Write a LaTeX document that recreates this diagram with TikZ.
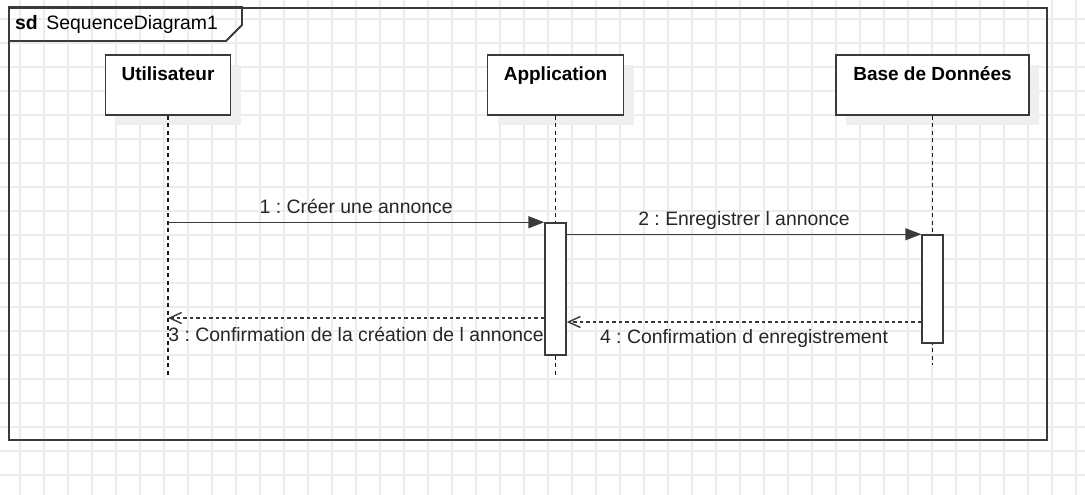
\documentclass[tikz,border=0pt]{standalone}
\usepackage{fontspec}
\setmainfont{Liberation Sans}
\frenchspacing
\usetikzlibrary{arrows.meta,shadows,calc}
\definecolor{ln}{HTML}{3A3A3A}
\definecolor{gridc}{HTML}{ECECEC}
\definecolor{shad}{HTML}{EFEFEF}
\definecolor{txt}{HTML}{262626}
\tikzset{
  gridline/.style={draw=gridc, line width=1.3pt},
  frameline/.style={draw=ln, line width=1.8pt},
  head/.style={draw=ln, line width=1.5pt, fill=white,
    drop shadow={shadow xshift=10pt, shadow yshift=-10pt, fill=shad, opacity=1}},
  headtxt/.style={font=\fontsize{19pt}{23pt}\selectfont\bfseries, text=black, anchor=base, inner sep=0pt},
  lbl/.style={font=\fontsize{19.4pt}{23pt}\selectfont, text=txt, inner sep=0pt},
  bar/.style={draw=ln, line width=1.5pt, fill=white},
  lifeline/.style={draw=black!90, line width=1.5pt, dash pattern=on 4pt off 3.5pt},
  call/.style={draw=ln, line width=1.5pt, -{Triangle[length=16pt,width=12pt]}},
  reply/.style={draw=ln, line width=1.3pt, dash pattern=on 3.5pt off 3pt,
    -{Straight Barb[length=12pt,width=11pt,line width=1.4pt]}}
}
\begin{document}
\begin{tikzpicture}[x=1pt,y=-1pt]
\useasboundingbox (0,0) rectangle (1085,495);
\fill[white] (0,0) rectangle (1085,495);
% grid
\foreach \i in {0,...,44} \draw[gridline] (20+24*\i,0) -- (20+24*\i,495);
\foreach \j in {0,...,19} \draw[gridline] (0,19+24*\j) -- (1085,19+24*\j);
% frame
\node[frameline, minimum width=1038pt, minimum height=432pt, anchor=north west, inner sep=0pt] (frame) at (8,7) {};
\draw[frameline] (frame.north west) -- ++(234,0) -- ++(0,18) -- ++(-16,16) -- ++(-218,0);
\node[lbl, anchor=base west, text=black] (sd) at (15,30) {\textbf{sd}\, SequenceDiagram1};
% lifeline heads
\node[head, minimum width=125pt, minimum height=60pt] (u) at (168,85) {};
\node[head, minimum width=136pt, minimum height=60pt] (a) at (555.5,85) {};
\node[head, minimum width=193pt, minimum height=60pt] (b) at (932.5,85) {};
\node[headtxt] (ut) at (168,81) {Utilisateur};
\node[headtxt] (at) at (555.5,81) {Application};
\node[headtxt] (bt) at (932.5,81) {Base de Données};
% lifelines
\coordinate (uend) at (168,375);
\coordinate (aend) at (555.5,375);
\coordinate (bend) at (932.5,365);
\draw[lifeline] (u.south) -- (uend);
\draw[lifeline] (a.south) -- (aend);
\draw[lifeline] (b.south) -- (bend);
% activation bars
\node[bar, minimum width=21pt, minimum height=132pt, inner sep=0pt] (a1) at (555.5,289) {};
\node[bar, minimum width=21pt, minimum height=108pt, inner sep=0pt] (b1) at (932.5,289) {};
% messages
\coordinate (m3) at (0,318);
\coordinate (m4) at (0,322);
\draw[call] (a1.north -| u) -- (a1.north west)
  node[lbl, midway, anchor=base, yshift=9pt] (l1) {1 : Créer une annonce};
\draw[call] (b1.north -| a1.east) -- (b1.north west)
  node[lbl, midway, anchor=base, yshift=9pt] (l2) {2 : Enregistrer l annonce};
\draw[reply] (m3 -| a1.west) -- (m3 -| u)
  node[lbl, midway, anchor=base, yshift=-23pt] (l3) {3 : Confirmation de la création de l annonce};
\draw[reply] (m4 -| b1.west) -- (m4 -| a1.east)
  node[lbl, midway, anchor=base, yshift=-21pt] (l4) {4 : Confirmation d enregistrement};
\end{tikzpicture}
\end{document}
